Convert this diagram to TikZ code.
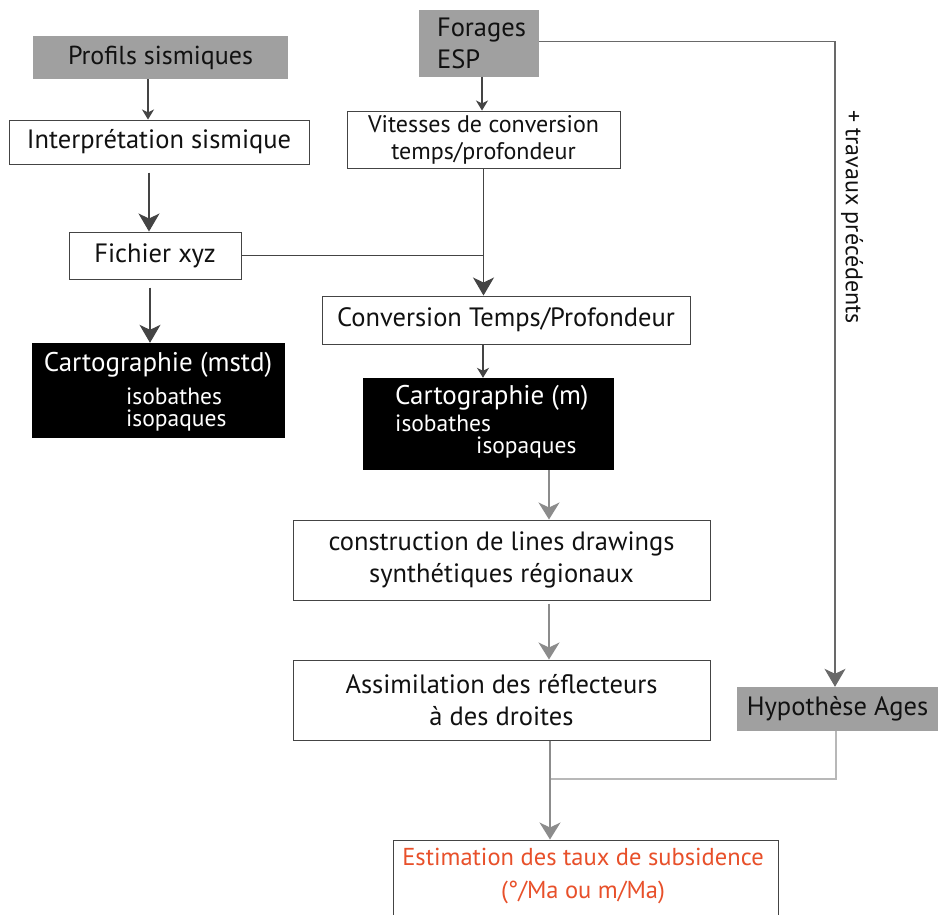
\documentclass[tikz,border=0pt]{standalone}
\usepackage{fontspec}
\setmainfont{PT Sans}
\usetikzlibrary{arrows.meta}
\definecolor{boxgray}{HTML}{A0A0A0}
\definecolor{linegray}{HTML}{444444}
\definecolor{arrgray}{HTML}{8C8C8C}
\definecolor{lightline}{HTML}{B8B8B8}
\definecolor{redtxt}{HTML}{E8502A}
\definecolor{txt}{HTML}{111111}
\begin{document}
\begin{tikzpicture}[x=1pt,y=-1pt,
  every node/.style={text=txt},
  txtfont/.style={font=\fontsize{26.5}{32}\selectfont},
  box/.style={draw=linegray, line width=1pt, fill=white, inner sep=0pt, align=center, txtfont},
  graybox/.style={fill=boxgray, inner sep=0pt, align=center, txtfont},
  blackbox/.style={fill=black, inner sep=0pt},
  wtext/.style={text=white, inner sep=0pt, font=\fontsize{27}{30}\selectfont},
  wsmall/.style={text=white, inner sep=0pt, font=\fontsize{23.5}{26}\selectfont},
  conn/.style={draw=linegray, line width=1.1pt},
  sarr/.style={conn, -{Stealth[length=10pt, width=12pt, inset=3pt]}},
  barr/.style={conn, -{Stealth[length=18pt, width=21pt, inset=5pt]}},
  garr/.style={draw=arrgray, line width=1.1pt, -{Stealth[length=17pt, width=21pt, inset=5pt]}},
  lline/.style={draw=lightline, line width=1.1pt}
]
\clip (0,0) rectangle (938,914);
\fill[white] (0,0) rectangle (938,914);

% boxes
\node[graybox, minimum width=255pt, minimum height=43pt, font=\fontsize{26}{32}\selectfont] (profils) at (160.5,57.5) {Profils sismiques};
\node[graybox, minimum width=120pt, minimum height=67pt, align=left, xshift=0pt] (forages) at (479,43) {\hspace*{5pt}Forages\\\hspace*{5pt}ESP};
\node[box, minimum width=300pt, minimum height=44pt] (interp) at (159,142) {Interprétation sismique};
\node[box, minimum width=273pt, minimum height=57pt, font=\fontsize{24}{27}\selectfont] (vitesses) at (483.5,139.5) {Vitesses de conversion\\temps/profondeur};
\node[box, minimum width=172pt, minimum height=47pt] (fichier) at (155,255.5) {Fichier xyz};
\node[box, minimum width=368pt, minimum height=48pt] (conv) at (506,320) {Conversion Temps/Profondeur};

\node[blackbox, minimum width=253pt, minimum height=95pt] (cartomstd) at (158.5,390.5) {};
\node[wtext] (cm1) at (158,365) {Cartographie (mstd)};
\node[wsmall, anchor=west] (cm2) at (126,396.5) {isobathes};
\node[wsmall, anchor=west] (cm3) at (126,421) {isopaques};

\node[blackbox, minimum width=251pt, minimum height=92pt] (cartom) at (488.5,424) {};
\node[wtext, anchor=west] (ck1) at (395,398) {Cartographie (m)};
\node[wsmall, anchor=west] (ck2) at (395,423) {isobathes};
\node[wsmall, anchor=west] (ck3) at (476,448) {isopaques};

\node[box, minimum width=417pt, minimum height=80pt] (constr) at (501.5,560) {construction de lines drawings\\synthétiques régionaux};
\node[box, minimum width=417pt, minimum height=80pt] (assim) at (501.5,700) {Assimilation des réflecteurs\\à des droites};
\node[graybox, minimum width=201pt, minimum height=44pt] (hypo) at (837.5,709) {Hypothèse Ages};
\node[box, minimum width=385pt, minimum height=90pt] (estim) at (585.5,885) {};
\node[font=\fontsize{24.5}{33}\selectfont, align=center, text=redtxt, inner sep=0pt] (estimtxt) at (583,876.5) {Estimation des taux de subsidence\\(°/Ma ou m/Ma)};

\node[font=\fontsize{24}{30}\selectfont, rotate=-90, inner sep=0pt] (trav) at (852,217) {+ travaux précédents};

% connectors
\draw[sarr] ([xshift=-12.5pt]profils.south) -- ([xshift=-12.5pt]profils.south |- interp.north);
\draw[barr] ([xshift=-10pt,yshift=-8pt]interp.south) -- ([xshift=-10pt]interp.south |- fichier.north);
\draw[barr] ([xshift=-5pt,yshift=-8pt]fichier.south) -- ([xshift=-5pt]fichier.south |- cartomstd.north);
\draw[sarr] ([xshift=3pt]forages.south) -- ([xshift=3pt]forages.south |- vitesses.north);
\draw[barr] (vitesses.south) -- (vitesses.south |- conv.north);
\draw[conn] (fichier.east) -- (fichier.east -| vitesses.south);
\draw[sarr] ([xshift=-23pt]conv.south) -- ([xshift=-23pt]conv.south |- cartom.north);
\draw[garr] ([xshift=60.5pt]cartom.south) -- ([xshift=60.5pt]cartom.south |- constr.north);
\draw[garr] ([xshift=47.5pt,yshift=-3pt]constr.south) -- ([xshift=47.5pt]constr.south |- assim.north);
\coordinate (merge) at (550,779);
\draw[lline] ([xshift=-1.5pt]hypo.south) |- (merge);
\draw[garr] ([xshift=48.5pt]assim.south) -- ([xshift=48.5pt]assim.south |- estim.north);
\draw[barr, draw=linegray!80] ([yshift=1.5pt]forages.east) -| ([xshift=-2.5pt]hypo.north);
\end{tikzpicture}
\end{document}
